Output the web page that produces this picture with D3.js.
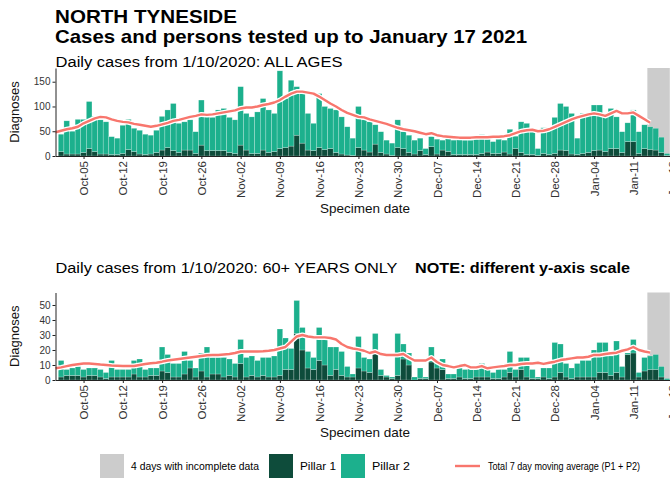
<!DOCTYPE html>
<html><head><meta charset="utf-8">
<script src="https://cdn.jsdelivr.net/npm/d3@7"></script>
<style>
body{margin:0;background:#fff}
svg{display:block}
text{font-family:"Liberation Sans",Arial,Helvetica,sans-serif}
</style>
</head><body>
<svg id="c" width="670" height="483"></svg>
<script>
// ---- DATA (one value per specimen date, starting 1 Oct 2020) ----
const firstDate = "2020-10-01";
// ALL AGES
const allPillar1 = [9,4,4,4,7,15,9,4,4,3,3,5,13,9,4,3,4,7,12,17,11,7,12,12,5,22,11,11,11,11,7,
  5,22,12,5,5,12,7,9,15,17,20,42,26,12,11,17,13,15,7,4,2,1,17,12,8,24,7,4,1,17,
  15,7,4,11,3,19,4,12,9,3,3,3,3,3,5,8,5,5,8,4,15,7,3,3,1,5,3,5,12,11,4,
  3,5,7,11,12,9,15,15,7,29,29,5,15,13,12,7,1];
const allPillar2 = [35,67,46,70,67,95,71,69,65,36,33,57,61,47,48,41,38,45,68,76,95,59,57,61,44,91,68,67,82,85,71,
  68,118,74,74,84,104,86,77,157,99,133,98,100,74,55,109,87,81,86,75,57,35,83,61,61,39,42,28,25,56,
  34,35,28,25,12,20,30,20,33,29,33,29,29,31,38,26,24,29,24,50,25,62,63,53,14,52,54,73,94,89,82,
  33,81,79,92,91,70,81,64,42,38,64,44,48,46,44,31,4];
// 7 day moving average, starting 30 Sep 2020, ending 14 Jan 2021
const allAverage = [48,51,54,56,59,66,71,76,79,78,74,71,69,68,65,63,61,59,61,64,67,71,73,76,79,81,84,83,84,86,88,90,
  92,96,98,98,100,103,105,108,113,120,126,130,130,128,126,120,113,106,100,93,87,83,79,78,74,71,68,65,61,57,
  54,52,50,47,44,46,42,40,39,38,37,37,37,38,38,38,39,39,40,42,46,50,52,53,50,51,54,59,64,69,74,
  78,81,84,86,84,81,86,91,86,86,88,81,74,67];
// 60+ YEARS ONLY
const oldPillar1 = [2,3,3,3,2,3,3,2,1,2,2,2,2,4,2,2,3,3,6,5,2,2,4,8,2,6,2,4,4,2,3,
  2,11,2,3,2,3,2,2,3,7,7,31,20,8,7,13,10,3,7,3,2,2,8,6,5,20,3,2,1,3,
  14,10,0,1,1,12,8,7,1,1,2,1,1,2,2,2,1,1,2,5,2,7,2,1,1,2,1,2,5,2,1,
  2,2,2,2,5,5,3,5,2,17,18,2,6,7,7,2,0];
const oldPillar2 = [11,4,5,6,5,5,5,5,4,11,5,5,5,9,12,5,5,5,16,12,9,9,15,5,6,12,20,11,11,13,11,
  9,16,13,13,11,12,13,14,31,21,14,22,15,11,8,22,18,19,15,16,7,2,21,9,9,11,4,1,1,28,
  10,8,2,7,1,10,5,7,3,3,6,6,8,5,9,5,4,6,5,14,5,8,13,6,1,6,7,23,19,9,7,
  9,11,11,18,20,20,13,21,7,1,9,3,9,9,10,7,1];
const oldAverage = [7.8,8.4,9.2,10,10.5,11,11,10.7,10.3,10,9.7,9.5,9.3,9.3,9.3,10,10.7,11.2,11.5,12.2,13,13.5,14,14.5,15,15.5,16,16.5,16.7,16.7,17,17.3,
  18,19,19,19,19,19.2,19.5,20,21,22,25.5,29,30,29,28.5,28.4,28.4,28,27,24,22,21,20.4,19.5,18,19,17.3,16.7,16.7,16.7,
  17.3,15,13,13,13,15,12,10,9.3,8.4,9.3,10,8.4,8.4,9.3,7.8,8.4,8.9,9.3,10,10,10.7,11,11,11.5,10.7,11.5,12.2,13.3,13.8,14.4,
  15,15,15.5,16.7,16.7,17.3,17.8,18.2,19.5,20.4,22,20,19,18.2];
const allTicks = [0,50,100,150];
const oldTicks = [0,10,20,30,40,50];
const incompleteDays = 4;
const legendLabels = ["4 days with incomplete data","Pillar 1","Pillar 2","Total 7 day moving average (P1 + P2)"];

// ---- STYLE ----
const COL_P1 = "#0e4c3b", COL_P2 = "#1cb08d", COL_LINE = "#f8766d", COL_GREY = "#cccccc";

const DAY = 864e5;
const t0 = Date.parse(firstDate + "T00:00:00Z");
const dateAt = i => new Date(t0 + i * DAY);

const svg = d3.select("#c");
const x = d3.scaleUtc()
  .domain([new Date(t0 - DAY), new Date(Date.UTC(2021,0,18,6))])
  .range([55.5, 674]);
const dayW = x(dateAt(1)) - x(dateAt(0));

function panel(o){
  const y = d3.scaleLinear().domain([0, o.ymax]).range([o.bottom, o.top]);
  const g = svg.append("g");
  const n = o.p1.length;
  // incomplete data shading
  g.append("rect")
    .attr("x", x(new Date(t0 + (n - incompleteDays - 0.5) * DAY)))
    .attr("width", x(new Date(t0 + (n - 0.5) * DAY)) - x(new Date(t0 + (n - incompleteDays - 0.5) * DAY)))
    .attr("y", o.top).attr("height", o.bottom - o.top)
    .attr("fill", COL_GREY);
  const data = o.p1.map((v,i)=>({d:dateAt(i), p1:v, p2:o.p2[i]}));
  // pillar 1 (bottom)
  g.selectAll(".b1").data(data).join("rect")
    .attr("x", d=>x(d.d)-dayW/2).attr("width", dayW)
    .attr("y", d=>y(d.p1)).attr("height", d=>y(0)-y(d.p1))
    .attr("fill", COL_P1).attr("stroke","#ffffff").attr("stroke-opacity",0.45).attr("stroke-width",0.5);
  // pillar 2 (stacked)
  g.selectAll(".b2").data(data).join("rect")
    .attr("x", d=>x(d.d)-dayW/2).attr("width", dayW)
    .attr("y", d=>y(d.p1+d.p2)).attr("height", d=>y(d.p1)-y(d.p1+d.p2))
    .attr("fill", COL_P2).attr("stroke","#ffffff").attr("stroke-opacity",0.45).attr("stroke-width",0.5);
  // moving average
  const line = d3.line().x((d,i)=>x(new Date(t0 + (i-1)*DAY))).y(d=>y(d)).curve(d3.curveLinear);
  g.append("path").attr("d", line(o.avg)).attr("fill","none")
    .attr("stroke","#ffffff").attr("stroke-width",5).attr("stroke-linejoin","round");
  g.append("path").attr("d", line(o.avg)).attr("fill","none")
    .attr("stroke",COL_LINE).attr("stroke-width",2.4).attr("stroke-linejoin","round");
  // axes
  const ya = g.append("g").attr("transform","translate(55.5,0)")
    .call(d3.axisLeft(y).tickValues(o.ticks).tickSize(3).tickSizeOuter(0).tickPadding(2));
  ya.selectAll("text").attr("font-size",10).attr("fill","#333").style("font-family",'"Liberation Sans",Arial,sans-serif');
  ya.selectAll("line,path").attr("stroke","#222");
  const xa = g.append("g").attr("transform",`translate(0,${o.bottom})`)
    .call(d3.axisBottom(x).ticks(d3.utcMonday.every(1)).tickFormat(d3.utcFormat("%b-%d")).tickSize(3).tickSizeOuter(0));
  xa.selectAll("line,path").attr("stroke","#222");
  xa.selectAll("text").attr("font-size",11.5).attr("fill","#333")
    .style("font-family",'"Liberation Sans",Arial,sans-serif')
    .attr("text-anchor","end").attr("transform","rotate(-90)")
    .attr("x",-5).attr("y",0).attr("dy","0.35em");
  // axis titles
  g.append("text").attr("transform",`translate(18.5,${(o.top+o.bottom)/2}) rotate(-90)`)
    .attr("text-anchor","middle").attr("font-size",13).attr("fill","#111").text("Diagnoses");
  g.append("text").attr("x",365).attr("y",o.xTitleY).attr("text-anchor","middle")
    .attr("font-size",13).attr("fill","#111").attr("textLength",90).attr("lengthAdjust","spacingAndGlyphs")
    .text("Specimen date");
}

// titles
svg.append("text").attr("x",55).attr("y",23).attr("font-size",18.5).attr("font-weight","bold")
  .attr("textLength",182).attr("lengthAdjust","spacingAndGlyphs").text("NORTH TYNESIDE");
svg.append("text").attr("x",55).attr("y",43).attr("font-size",18.5).attr("font-weight","bold")
  .attr("textLength",472).attr("lengthAdjust","spacingAndGlyphs").text("Cases and persons tested up to January 17 2021");
svg.append("text").attr("x",55.5).attr("y",66.5).attr("font-size",14)
  .attr("textLength",287).attr("lengthAdjust","spacingAndGlyphs").text("Daily cases from 1/10/2020: ALL AGES");
svg.append("text").attr("x",55.5).attr("y",273).attr("font-size",14)
  .attr("textLength",342).attr("lengthAdjust","spacingAndGlyphs").text("Daily cases from 1/10/2020: 60+ YEARS ONLY");
svg.append("text").attr("x",415).attr("y",273).attr("font-size",14).attr("font-weight","bold")
  .attr("textLength",215).attr("lengthAdjust","spacingAndGlyphs").text("NOTE: different y-axis scale");

panel({top:68, bottom:156, ymax:177.7, ticks:allTicks, p1:allPillar1, p2:allPillar2, avg:allAverage, xTitleY:213});
panel({top:292.5, bottom:380, ymax:58.33, ticks:oldTicks, p1:oldPillar1, p2:oldPillar2, avg:oldAverage, xTitleY:437});

// legend
const lg = svg.append("g");
const ly = 454, ks = 24, ty = 470;
lg.append("rect").attr("x",100).attr("y",ly).attr("width",ks).attr("height",ks).attr("fill",COL_GREY);
lg.append("text").attr("x",131).attr("y",ty).attr("font-size",10.5).attr("textLength",128).attr("lengthAdjust","spacingAndGlyphs").text(legendLabels[0]);
lg.append("rect").attr("x",269).attr("y",ly).attr("width",ks).attr("height",ks).attr("fill",COL_P1);
lg.append("text").attr("x",300).attr("y",ty).attr("font-size",10.5).attr("textLength",36).attr("lengthAdjust","spacingAndGlyphs").text(legendLabels[1]);
lg.append("rect").attr("x",341).attr("y",ly).attr("width",ks).attr("height",ks).attr("fill",COL_P2);
lg.append("text").attr("x",372).attr("y",ty).attr("font-size",10.5).attr("textLength",38).attr("lengthAdjust","spacingAndGlyphs").text(legendLabels[2]);
lg.append("line").attr("x1",455).attr("x2",480).attr("y1",ly+ks/2).attr("y2",ly+ks/2).attr("stroke",COL_LINE).attr("stroke-width",2.4);
lg.append("text").attr("x",488).attr("y",ty).attr("font-size",10.5).attr("textLength",152).attr("lengthAdjust","spacingAndGlyphs").text(legendLabels[3]);
</script>
</body></html>
